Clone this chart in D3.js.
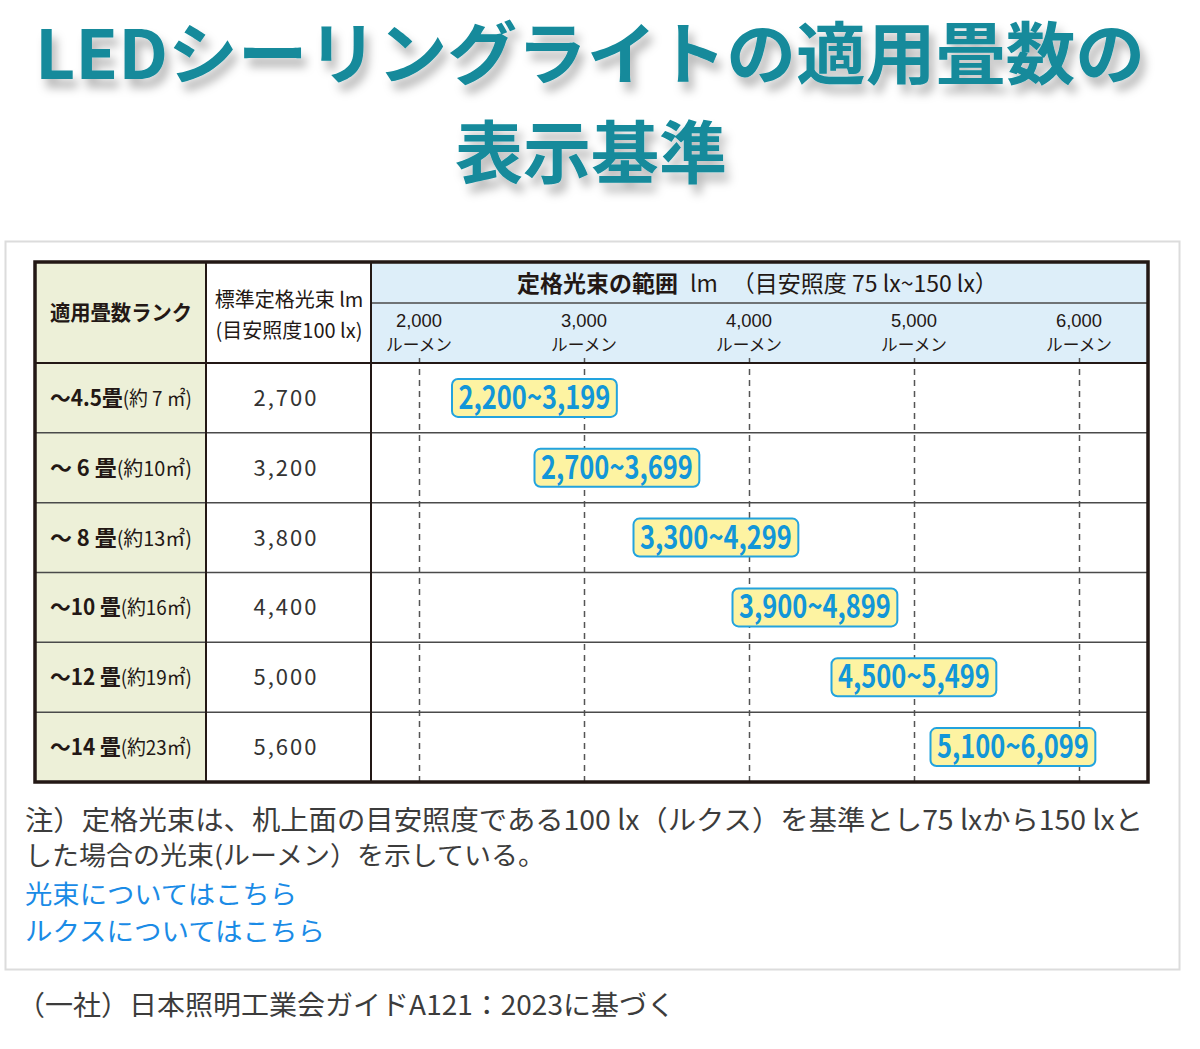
<!DOCTYPE html>
<html lang="ja">
<head>
<meta charset="utf-8">
<script src="https://cdn.jsdelivr.net/npm/d3@7"></script>
<style>
  body { margin: 0; background: #fff; }
  svg { display: block; font-family: "Noto Sans CJK JP", "Noto Sans", sans-serif; }
</style>
</head>
<body>
<div id="chart"></div>
<script>
'use strict';

// rows of the table
var rankLabels = ['〜4.5畳', '〜 6 畳', '〜 8 畳', '〜10 畳', '〜12 畳', '〜14 畳'];
var areaLabels = ['(約 7 ㎡)', '(約10㎡)', '(約13㎡)', '(約16㎡)', '(約19㎡)', '(約23㎡)'];
var standardLumen = [2700, 3200, 3800, 4400, 5000, 5600];
var rangeMin = [2200, 2700, 3300, 3900, 4500, 5100];
var rangeMax = [3199, 3699, 4299, 4899, 5499, 6099];
var tickValues = [2000, 3000, 4000, 5000, 6000];
var tickUnit = 'ルーメン';

var width = 1200,
    height = 1049;

var table = { left: 35, right: 1148, top: 262, head: 363, bottom: 782 };
var col1 = 206, col2 = 371, subHead = 303;

var fmt = d3.format(',');

var svg = d3.select('#chart').append('svg')
    .attr('width', width)
    .attr('height', height);

var defs = svg.append('defs');
defs.append('filter')
    .attr('id', 'shadow')
    .attr('x', '-10%').attr('y', '-20%').attr('width', '120%').attr('height', '160%')
    .append('feDropShadow')
    .attr('dx', 5).attr('dy', 9)
    .attr('stdDeviation', 5)
    .attr('flood-color', '#000')
    .attr('flood-opacity', 0.28);

// title
var title = svg.append('g')
    .attr('fill', '#138a9b')
    .attr('font-weight', 700)
    .attr('text-anchor', 'middle')
    .attr('filter', 'url(#shadow)');
title.append('text')
    .attr('x', 590).attr('y', 79)
    .attr('font-size', 68)
    .attr('textLength', 1110)
    .attr('lengthAdjust', 'spacingAndGlyphs')
    .text('LEDシーリングライトの適用畳数の');
title.append('text')
    .attr('x', 591).attr('y', 178)
    .attr('font-size', 68)
    .attr('textLength', 272)
    .attr('lengthAdjust', 'spacingAndGlyphs')
    .text('表示基準');

// panel around table and notes
svg.append('rect')
    .attr('x', 5.5).attr('y', 241.5)
    .attr('width', 1174).attr('height', 728)
    .attr('fill', '#fff')
    .attr('stroke', '#dcdcdc')
    .attr('stroke-width', 2);

var x = d3.scaleLinear().domain([2000, 6000]).range([419, 1079]);
var y = d3.scaleBand().domain(d3.range(rankLabels.length)).range([table.head, table.bottom]);

// backgrounds
svg.append('rect')
    .attr('x', table.left).attr('y', table.top)
    .attr('width', col1 - table.left).attr('height', table.bottom - table.top)
    .attr('fill', '#edf0d8');
svg.append('rect')
    .attr('x', col2).attr('y', table.top)
    .attr('width', table.right - col2).attr('height', table.head - table.top)
    .attr('fill', '#ddeef9');

// dashed grid lines from the axis
var grid = svg.append('g')
    .attr('transform', 'translate(0,' + table.bottom + ')')
    .call(d3.axisBottom(x).tickValues(tickValues).tickSize(-(table.bottom - 355)).tickFormat(''));
grid.select('.domain').remove();
grid.selectAll('.tick line')
    .attr('stroke', '#555')
    .attr('stroke-width', 1.5)
    .attr('stroke-dasharray', '6,5');

// row lines
svg.append('g').selectAll('line')
    .data(d3.range(1, rankLabels.length))
    .join('line')
    .attr('x1', table.left).attr('x2', table.right)
    .attr('y1', function (d) { return y(d); })
    .attr('y2', function (d) { return y(d); })
    .attr('stroke', '#4a4a4a')
    .attr('stroke-width', 1.5);

svg.append('line')
    .attr('x1', col2).attr('x2', table.right)
    .attr('y1', subHead).attr('y2', subHead)
    .attr('stroke', '#4a4a4a').attr('stroke-width', 1.5);
svg.append('line')
    .attr('x1', table.left).attr('x2', table.right)
    .attr('y1', table.head).attr('y2', table.head)
    .attr('stroke', '#231815').attr('stroke-width', 2);
[col1, col2].forEach(function (cx) {
    svg.append('line')
        .attr('x1', cx).attr('x2', cx)
        .attr('y1', table.top).attr('y2', table.bottom)
        .attr('stroke', '#231815').attr('stroke-width', 2);
});
svg.append('rect')
    .attr('x', table.left).attr('y', table.top)
    .attr('width', table.right - table.left).attr('height', table.bottom - table.top)
    .attr('fill', 'none')
    .attr('stroke', '#231815')
    .attr('stroke-width', 3.5);

// header texts
svg.append('text')
    .attr('x', 121).attr('y', 320)
    .attr('text-anchor', 'middle')
    .attr('font-size', 21).attr('font-weight', 700)
    .attr('fill', '#231815')
    .attr('textLength', 142).attr('lengthAdjust', 'spacingAndGlyphs')
    .text('適用畳数ランク');
svg.append('text')
    .attr('x', 289).attr('y', 307)
    .attr('text-anchor', 'middle')
    .attr('font-size', 20).attr('fill', '#231815')
    .text('標準定格光束 lm');
svg.append('text')
    .attr('x', 289).attr('y', 338)
    .attr('text-anchor', 'middle')
    .attr('font-size', 20).attr('fill', '#231815')
    .attr('textLength', 147).attr('lengthAdjust', 'spacingAndGlyphs')
    .text('(目安照度100 lx)');

var h3 = svg.append('text')
    .attr('x', 517).attr('y', 292)
    .attr('font-size', 23).attr('fill', '#231815');
h3.append('tspan').attr('font-weight', 700).text('定格光束の範囲');
h3.append('tspan').attr('dx', 12).text('lm');
h3.append('tspan').attr('dx', 14)
    .attr('textLength', 266).attr('lengthAdjust', 'spacingAndGlyphs')
    .text('（目安照度 75 lx~150 lx）');

// tick labels
var ticks = svg.append('g')
    .attr('text-anchor', 'middle')
    .attr('fill', '#231815');
ticks.selectAll('text.num')
    .data(tickValues)
    .join('text')
    .attr('class', 'num')
    .attr('x', function (d) { return x(d); })
    .attr('y', 327)
    .attr('font-family', '"Liberation Sans", sans-serif')
    .attr('font-size', 19)
    .attr('textLength', 46).attr('lengthAdjust', 'spacingAndGlyphs')
    .text(function (d) { return fmt(d); });
ticks.selectAll('text.unit')
    .data(tickValues)
    .join('text')
    .attr('class', 'unit')
    .attr('x', function (d) { return x(d); })
    .attr('y', 351)
    .attr('font-size', 17)
    .attr('textLength', 66).attr('lengthAdjust', 'spacingAndGlyphs')
    .text(tickUnit);

// rows
var rows = svg.append('g').selectAll('g')
    .data(rankLabels.map(function (r, i) {
        return { rank: r, area: areaLabels[i], std: standardLumen[i], lo: rangeMin[i], hi: rangeMax[i], i: i };
    }))
    .join('g')
    .attr('transform', function (d) { return 'translate(0,' + (y(d.i) + y.bandwidth() / 2) + ')'; });

var lab = rows.append('text')
    .attr('x', 121).attr('y', 8)
    .attr('text-anchor', 'middle')
    .attr('fill', '#231815')
    .attr('textLength', 142).attr('lengthAdjust', 'spacingAndGlyphs')
    .attr('font-family', '"Liberation Sans Narrow", "Noto Sans CJK JP", sans-serif');
lab.append('tspan')
    .attr('font-size', 22).attr('font-weight', 700)
    .text(function (d) { return d.rank; });
lab.append('tspan')
    .attr('font-size', 20)
    .text(function (d) { return d.area; });

rows.append('text')
    .attr('x', 286).attr('y', 8)
    .attr('text-anchor', 'middle')
    .attr('font-size', 22)
    .attr('letter-spacing', 2)
    .attr('fill', '#333')
    .text(function (d) { return fmt(d.std); });

rows.append('rect')
    .attr('x', function (d) { return x(d.lo); })
    .attr('y', -19)
    .attr('width', function (d) { return x(d.hi) - x(d.lo); })
    .attr('height', 38)
    .attr('rx', 6)
    .attr('fill', '#fdf3a2')
    .attr('stroke', '#22a3de')
    .attr('stroke-width', 2);

rows.append('text')
    .attr('x', function (d) { return (x(d.lo) + x(d.hi)) / 2; })
    .attr('y', 11)
    .attr('text-anchor', 'middle')
    .attr('font-family', '"Liberation Sans Narrow", "Noto Sans CJK JP", sans-serif')
    .attr('font-size', 32)
    .attr('font-weight', 700)
    .attr('fill', '#1296d8')
    .attr('textLength', 152)
    .attr('lengthAdjust', 'spacingAndGlyphs')
    .text(function (d) { return fmt(d.lo) + '~' + fmt(d.hi); });

// notes
var notes = svg.append('g').attr('font-size', 26);
notes.append('text')
    .attr('x', 25).attr('y', 830)
    .attr('font-size', 27.5)
    .attr('fill', '#3c3c3c')
    .attr('textLength', 1118).attr('lengthAdjust', 'spacingAndGlyphs')
    .text('注）定格光束は、机上面の目安照度である100 lx（ルクス）を基準とし75 lxから150 lxと');
notes.append('text')
    .attr('x', 25).attr('y', 865)
    .attr('fill', '#3c3c3c')
    .attr('textLength', 520).attr('lengthAdjust', 'spacingAndGlyphs')
    .text('した場合の光束(ルーメン）を示している。');
notes.append('text')
    .attr('x', 25).attr('y', 904)
    .attr('fill', '#1a8be6')
    .attr('textLength', 272).attr('lengthAdjust', 'spacingAndGlyphs')
    .text('光束についてはこちら');
notes.append('text')
    .attr('x', 25).attr('y', 941)
    .attr('fill', '#1a8be6')
    .attr('textLength', 300).attr('lengthAdjust', 'spacingAndGlyphs')
    .text('ルクスについてはこちら');
svg.append('text')
    .attr('x', 17).attr('y', 1015)
    .attr('font-size', 27.5)
    .attr('fill', '#3c3c3c')
    .attr('textLength', 658).attr('lengthAdjust', 'spacingAndGlyphs')
    .text('（一社）日本照明工業会ガイドA121：2023に基づく');
</script>
</body>
</html>
